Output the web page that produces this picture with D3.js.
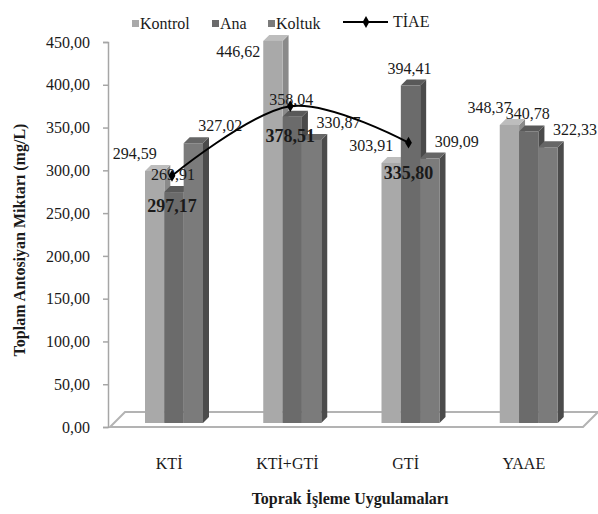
<!DOCTYPE html>
<meta charset="utf-8" />
<title>Toplam Antosiyan Miktari</title>
<style>
  body { margin: 0; background: #fff; }
  svg text { font-family: "Liberation Serif", "DejaVu Serif", serif !important; fill: #1a1a1a; }
  .axis-title { font-weight: bold; font-size: 16px; }
</style>
<body>
  <script src="https://cdnjs.cloudflare.com/ajax/libs/d3/7.8.5/d3.min.js"></script>
  <script>
    // data
    var categories = ["KTİ", "KTİ+GTİ", "GTİ", "YAAE"];
    var seriesNames = ["Kontrol", "Ana", "Koltuk"];
    var kontrol = [294.59, 446.62, 303.91, 348.37];
    var ana = [269.91, 358.04, 394.41, 340.78];
    var koltuk = [327.02, 330.87, 309.09, 322.33];
    var tiae = [297.17, 378.51, 335.80]; // no value for YAAE
    var yTicks = [0, 50, 100, 150, 200, 250, 300, 350, 400, 450];

    var values = [kontrol, ana, koltuk];

    // colours: front, top, side
    var fronts = ["#a9a9a9", "#6b6b6b", "#7b7b7b"];
    var tops = ["#bdbdbd", "#595959", "#666666"];
    var sides = ["#8a8a8a", "#4a4a4a", "#4b4b4b"];

    var W = 598, H = 514;
    var depth = 6, lift = 4; // pseudo 3d

    var locale = d3.formatLocale({ decimal: ",", thousands: ".", grouping: [3], currency: ["", ""] });
    var fmt = locale.format(".2f");

    var svg = d3.select("body").append("svg")
      .attr("width", W)
      .attr("height", H)
      .attr("font-family", "Liberation Serif");

    var x0 = d3.scaleBand().domain(categories).range([110, 583]);
    var xs = d3.scaleBand().domain(seriesNames).range([0, 58]);
    var y = d3.scaleLinear().domain([0, 450]).range([427, 42]);

    function barLeft(ci, si) { return x0(categories[ci]) + 35 + xs(seriesNames[si]); }

    // floor
    svg.append("path")
      .attr("d", "M110,427L583,427L598,412L125,412Z")
      .attr("fill", "#fff")
      .attr("stroke", "#b3b3b3")
      .attr("stroke-width", 2);

    // y axis
    var yAxis = svg.append("g").attr("transform", "translate(108,0)")
      .call(d3.axisLeft(y).tickValues(yTicks).tickFormat(fmt).tickSize(5).tickPadding(13));
    yAxis.attr("font-family", null);
    yAxis.select(".domain").attr("stroke", "#a6a6a6").attr("stroke-width", 1.5);
    yAxis.selectAll(".tick line").attr("stroke", "#a6a6a6").attr("stroke-width", 1.5);
    yAxis.selectAll(".tick text")
      .attr("font-size", 16)
      .attr("fill", "#1a1a1a");

    // bars
    var bw = xs.bandwidth();
    categories.forEach(function(c, ci) {
      var g = svg.append("g");
      seriesNames.forEach(function(s, si) {
        var v = values[si][ci];
        var xl = barLeft(ci, si);
        var top = y(v) - lift, base = y(0) - lift;
        g.append("path")
          .attr("d", "M" + (xl + bw) + "," + top + "L" + (xl + bw + depth) + "," + (top - depth) +
            "L" + (xl + bw + depth) + "," + (base - depth) + "L" + (xl + bw) + "," + base + "Z")
          .attr("fill", sides[si]);
        g.append("path")
          .attr("d", "M" + xl + "," + top + "L" + (xl + depth) + "," + (top - depth) +
            "L" + (xl + bw + depth) + "," + (top - depth) + "L" + (xl + bw) + "," + top + "Z")
          .attr("fill", tops[si]);
        g.append("rect")
          .attr("x", xl)
          .attr("y", top)
          .attr("width", bw)
          .attr("height", base - top)
          .attr("fill", fronts[si]);
      });
    });

    // value labels
    var labelDx = [-20, -1, 27];
    categories.forEach(function(c, ci) {
      seriesNames.forEach(function(s, si) {
        var v = values[si][ci];
        var xl = barLeft(ci, si);
        var top = y(v) - lift;
        var t = svg.append("text").attr("font-size", 16).text(fmt(v));
        if (top - 17 < 50) {
          t.attr("x", xl - 3).attr("y", top + 16).attr("text-anchor", "end");
        } else {
          t.attr("x", xl + bw / 2 + labelDx[si]).attr("y", top - 12).attr("text-anchor", "middle");
        }
      });
    });

    // TİAE line
    var pts = tiae.map(function(v, i) {
      return [barLeft(i, 1) + bw / 2 - 2, y(v) + 3];
    });
    svg.append("path")
      .datum(pts)
      .attr("d", d3.line().curve(d3.curveCardinal))
      .attr("fill", "none")
      .attr("stroke", "#000")
      .attr("stroke-width", 2);
    svg.selectAll(".mk").data(pts).enter().append("path")
      .attr("transform", function(d) { return "translate(" + d[0] + "," + d[1] + ")"; })
      .attr("d", d3.symbol(d3.symbolDiamond, 40))
      .attr("fill", "#000");
    svg.selectAll(".tl").data(tiae).enter().append("text")
      .attr("x", function(d, i) { return pts[i][0]; })
      .attr("y", function(d, i) { return pts[i][1] + 36; })
      .attr("text-anchor", "middle")
      .attr("font-size", 18)
      .attr("font-weight", "bold")
      .text(fmt);

    // category labels
    svg.selectAll(".cat").data(categories).enter().append("text")
      .attr("x", function(d) { return x0(d) + x0.bandwidth() / 2; })
      .attr("y", 469)
      .attr("text-anchor", "middle")
      .attr("font-size", 16)
      .text(function(d) { return d; });

    // axis titles
    svg.append("text").attr("class", "axis-title")
      .attr("x", 350).attr("y", 504)
      .attr("text-anchor", "middle")
      .text("Toprak İşleme Uygulamaları");
    svg.append("text").attr("class", "axis-title")
      .attr("transform", "translate(25,240) rotate(-90)")
      .attr("text-anchor", "middle")
      .text("Toplam Antosiyan Miktarı (mg/L)");

    // legend
    var legX = [132, 212, 268];
    var leg = svg.append("g");
    seriesNames.forEach(function(s, i) {
      leg.append("rect").attr("x", legX[i]).attr("y", 20).attr("width", 7).attr("height", 7).attr("fill", fronts[i]);
      leg.append("text").attr("x", legX[i] + 8).attr("y", 29).attr("font-size", 16).text(s);
    });
    leg.append("line").attr("x1", 343).attr("x2", 388).attr("y1", 22).attr("y2", 22)
      .attr("stroke", "#000").attr("stroke-width", 2);
    leg.append("path").attr("transform", "translate(366,22)")
      .attr("d", d3.symbol(d3.symbolDiamond, 40)).attr("fill", "#000");
    leg.append("text").attr("x", 393).attr("y", 27).attr("font-size", 16).text("TİAE");
  </script>
</body>
